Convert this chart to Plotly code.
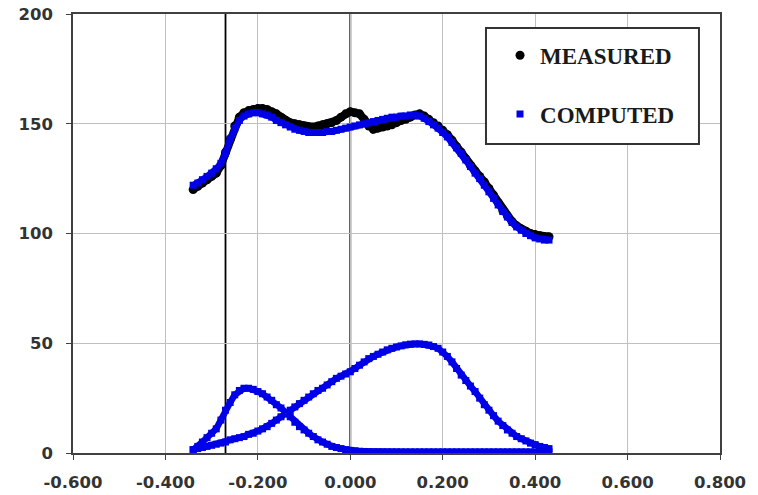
import plotly.graph_objects as go

# sample positions (x), step 0.01 from -0.34 to 0.43
x_vals = [round(-0.34 + 0.01 * i, 2) for i in range(78)]

measured = [120, 121.5, 123, 124.5, 126, 127.5, 131, 137, 143, 149,
            153, 155, 156, 156.5, 157, 157, 156.5, 155.5, 154.5, 153,
            151.5, 150.5, 150, 149.5, 149, 148.5, 148.5, 149, 149.5, 150,
            150.5, 151.5, 153, 154.5, 155.5, 155, 154.5, 152, 149, 147.5,
            148, 148.5, 149, 149.5, 150.5, 151.5, 152, 153, 154, 154.5,
            153.5, 152, 150.5, 149, 147, 145, 142.5, 139.5, 137, 134,
            131, 128.5, 126, 123.5, 120.5, 117.5, 114, 110.5, 108, 105.5,
            103.5, 102, 101, 100, 99.5, 99, 98.5, 98.5]

computed = [122, 123, 124.5, 126, 127.5, 129.5, 132, 136.5, 143, 148,
            151.5, 153.5, 154.5, 155, 155, 154.5, 154, 153, 151.5, 150.5,
            149.5, 148.5, 147.5, 147, 146.5, 146, 146, 146, 146, 146.5,
            146.5, 147, 147.5, 148, 148.5, 149, 149.5, 150, 150.5, 151,
            151.5, 152, 152.5, 153, 153, 153.5, 153.5, 154, 154, 153.5,
            152.5, 151, 149.5, 148, 146, 144, 141.5, 139, 136.5, 133.5,
            130.5, 127.5, 125, 122, 119, 116, 113, 110, 107.5, 105,
            103, 101.5, 100, 99, 98, 97.5, 97, 97]

component_1 = [1.5, 3, 5, 7, 9, 11, 15, 19.5, 23, 26.5,
               28.5, 29.5, 29.5, 29, 28, 27, 25.5, 24, 22, 20.5,
               18.5, 16.5, 14, 12, 10.5, 9, 7.5, 6, 5, 4,
               3, 2.5, 2, 1.5, 1.2, 1, 0.8, 0.7, 0.6, 0.5,
               0.5, 0.5, 0.5, 0.5, 0.5, 0.5, 0.5, 0.5, 0.5, 0.5,
               0.5, 0.5, 0.5, 0.5, 0.5, 0.5, 0.5, 0.5, 0.5, 0.5,
               0.5, 0.5, 0.5, 0.5, 0.5, 0.5, 0.5, 0.5, 0.5, 0.5,
               0.5, 0.5, 0.5, 0.5, 0.5, 0.5, 0.5, 0.5]

component_2 = [1.5, 2, 2.5, 3, 3.5, 4, 4.5, 5, 6, 6.5,
               7, 7.5, 8.5, 9, 10, 11, 12, 13.5, 15, 16.5,
               18, 19.5, 21, 22.5, 24, 25.5, 27, 28.5, 29.5, 31,
               32.5, 34, 35, 36, 37, 38.5, 40, 41.5, 43, 44,
               45, 46, 47, 47.7, 48.3, 48.8, 49.3, 49.6, 49.7, 49.7,
               49.5, 49.2, 48.5, 47.7, 46, 44, 41.5, 38.5, 35.5, 33,
               30.5, 28, 25, 22, 19.5, 17, 14.5, 12.5, 10.5, 9,
               7.5, 6.5, 5.5, 4.5, 3.8, 3, 2.5, 2]

ref_lines = [-0.27, 0.0]
x_ticks = [-0.6, -0.4, -0.2, 0.0, 0.2, 0.4, 0.6, 0.8]
x_tick_labels = ["-0.600", "-0.400", "-0.200", "0.000", "0.200", "0.400", "0.600", "0.800"]
y_ticks = [0, 50, 100, 150, 200]

BLUE = "#0000e6"
BLACK = "#000000"

fig = go.Figure()
# thick bands formed by the dense points
fig.add_trace(go.Scatter(x=x_vals, y=measured, mode="lines", showlegend=False,
                         line=dict(color=BLACK, width=8), hoverinfo="skip"))
fig.add_trace(go.Scatter(x=x_vals, y=measured, mode="markers", name="MEASURED",
                         marker=dict(color=BLACK, size=9, symbol="circle")))
for series in (computed, component_1, component_2):
    fig.add_trace(go.Scatter(x=x_vals, y=series, mode="lines", showlegend=False,
                             line=dict(color=BLUE, width=6.5), hoverinfo="skip"))
fig.add_trace(go.Scatter(x=x_vals, y=computed, mode="markers", name="COMPUTED",
                         marker=dict(color=BLUE, size=7, symbol="square")))
for series in (component_1, component_2):
    fig.add_trace(go.Scatter(x=x_vals, y=series, mode="markers", showlegend=False,
                             marker=dict(color=BLUE, size=7, symbol="square")))

for xv in ref_lines:
    fig.add_shape(type="line", xref="x", yref="paper", x0=xv, x1=xv, y0=0, y1=1,
                  line=dict(color="black", width=1.8), layer="between")

# legend frame (white box with dark border)
fig.add_shape(type="rect", xref="paper", yref="paper",
              x0=0.6383, x1=0.9675, y0=0.704, y1=0.968,
              line=dict(color="#333333", width=2), fillcolor="white", layer="above")

axis_font = dict(family="DejaVu Sans", size=16.5, color="#333333", weight="bold")

fig.update_layout(
    width=758, height=495,
    margin=dict(l=73, r=38, t=14, b=42),
    paper_bgcolor="white", plot_bgcolor="white",
    showlegend=True,
    legend=dict(x=0.660, y=0.955, xanchor="left", yanchor="top",
                bgcolor="rgba(0,0,0,0)", borderwidth=0,
                font=dict(family="Liberation Serif", size=23, color="#1a1a1a", weight="bold"),
                tracegroupgap=26, itemwidth=30),
    xaxis=dict(range=[-0.6, 0.8], tickvals=x_ticks, ticktext=x_tick_labels,
               showgrid=True, gridcolor="#c0c0c0", gridwidth=1,
               showline=True, linecolor="#404040", linewidth=1.5, mirror=True,
               ticks="outside", ticklen=5, tickcolor="#404040", automargin=False,
               tickfont=axis_font, zeroline=False, ticklabelstandoff=8),
    yaxis=dict(range=[0, 200], tickvals=y_ticks,
               showgrid=True, gridcolor="#c0c0c0", gridwidth=1,
               showline=True, linecolor="#404040", linewidth=1.5, mirror=True,
               ticks="outside", ticklen=5, tickcolor="#404040", automargin=False,
               tickfont=axis_font, zeroline=False, ticklabelstandoff=10),
)
fig.data[1].legendgroup = "m"
fig.data[5].legendgroup = "c"

fig.write_html("out.html")
